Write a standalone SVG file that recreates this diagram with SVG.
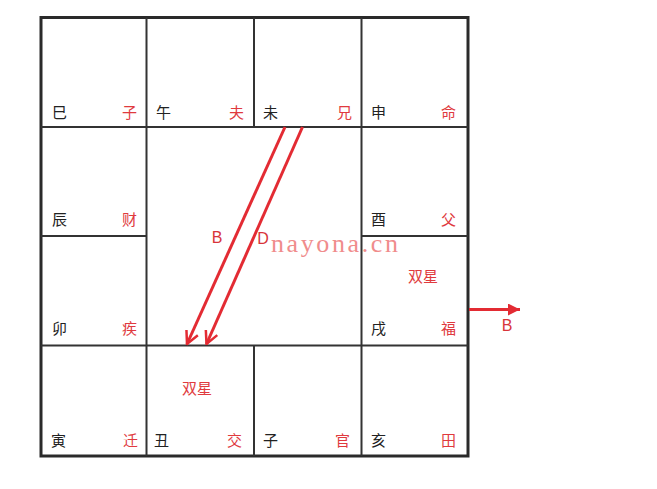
<svg xmlns="http://www.w3.org/2000/svg" width="657" height="489" viewBox="0 0 657 489">
<defs>
<style>
.grid{fill:none;stroke:#333;stroke-width:2}
.outer{fill:none;stroke:#2a2a2a;stroke-width:3}
.k{font-family:"Noto Sans CJK SC","Noto Sans",sans-serif;font-size:15px;fill:#222}
.r{font-family:"Noto Sans CJK SC","Noto Sans",sans-serif;font-size:15px;fill:#e03a3e;text-anchor:end}
.rc{font-family:"Noto Sans CJK SC","Noto Sans",sans-serif;font-size:15px;fill:#e03a3e;text-anchor:middle}
.lbl{font-family:"Liberation Sans",Arial,sans-serif;font-size:16px;fill:#d8343a;text-anchor:middle}
.wm{font-family:"Liberation Serif","Times New Roman",serif;font-size:26px;fill:#f08c8c;letter-spacing:2.6px}
.arr{stroke:#e32b33;stroke-width:3;fill:none}
</style>
<marker id="open" viewBox="0 0 12 12" refX="11" refY="6" markerWidth="5" markerHeight="5" orient="auto" markerUnits="strokeWidth">
<path d="M1,1 L11,6 L1,11" fill="none" stroke="#e32b33" stroke-width="2"/>
</marker>
<marker id="solid" viewBox="0 0 10 10" refX="10" refY="5" markerWidth="4" markerHeight="4" orient="auto" markerUnits="strokeWidth">
<path d="M0,0 L10,5 L0,10 z" fill="#e32b33"/>
</marker>
</defs>
<rect width="657" height="489" fill="#fff"/>
<g id="grid">
<rect class="outer" x="41" y="17.5" width="427" height="438.5"/>
<line class="grid" x1="146.5" y1="17.5" x2="146.5" y2="456"/>
<line class="grid" x1="361.5" y1="17.5" x2="361.5" y2="456"/>
<line class="grid" x1="254" y1="17.5" x2="254" y2="127"/>
<line class="grid" x1="254" y1="345.5" x2="254" y2="456"/>
<line class="grid" x1="41" y1="127" x2="468" y2="127"/>
<line class="grid" x1="41" y1="345.5" x2="468" y2="345.5"/>
<line class="grid" x1="41" y1="236" x2="146.5" y2="236"/>
<line class="grid" x1="361.5" y1="236" x2="468" y2="236"/>
</g>
<g id="cell-si"><text class="k" x="52" y="118">巳</text><text class="r" x="137" y="118">子</text></g>
<g id="cell-wu"><text class="k" x="156" y="118">午</text><text class="r" x="244" y="118">夫</text></g>
<g id="cell-wei"><text class="k" x="263" y="118">未</text><text class="r" x="352" y="118">兄</text></g>
<g id="cell-shen"><text class="k" x="371" y="118">申</text><text class="r" x="456" y="118">命</text></g>
<g id="cell-chen"><text class="k" x="52" y="225">辰</text><text class="r" x="137" y="225">财</text></g>
<g id="cell-you"><text class="k" x="371" y="225">酉</text><text class="r" x="456" y="225">父</text></g>
<g id="cell-mao"><text class="k" x="52" y="334">卯</text><text class="r" x="137" y="334">疾</text></g>
<g id="cell-xu"><text class="rc" x="423" y="282">双星</text><text class="k" x="371" y="334">戌</text><text class="r" x="456" y="334">福</text></g>
<g id="cell-yin"><text class="k" x="51" y="446">寅</text><text class="r" x="138" y="446">迁</text></g>
<g id="cell-chou"><text class="rc" x="197" y="394">双星</text><text class="k" x="154" y="446">丑</text><text class="r" x="242" y="446">交</text></g>
<g id="cell-zi"><text class="k" x="263" y="446">子</text><text class="r" x="350" y="446">官</text></g>
<g id="cell-hai"><text class="k" x="371" y="446">亥</text><text class="r" x="456" y="446">田</text></g>
<g id="connectors">
<line class="arr" x1="285" y1="127" x2="187" y2="344" marker-end="url(#open)"/>
<line class="arr" x1="302.5" y1="127" x2="206.5" y2="344" marker-end="url(#open)"/>
<line class="arr" x1="469" y1="309.5" x2="520" y2="309.5" marker-end="url(#solid)"/>
<text class="lbl" x="217" y="243">B</text>
<text class="lbl" x="263" y="244">D</text>
<text class="lbl" x="507" y="331">B</text>
</g>
<text class="wm" x="271" y="252">nayona.cn</text>
</svg>
